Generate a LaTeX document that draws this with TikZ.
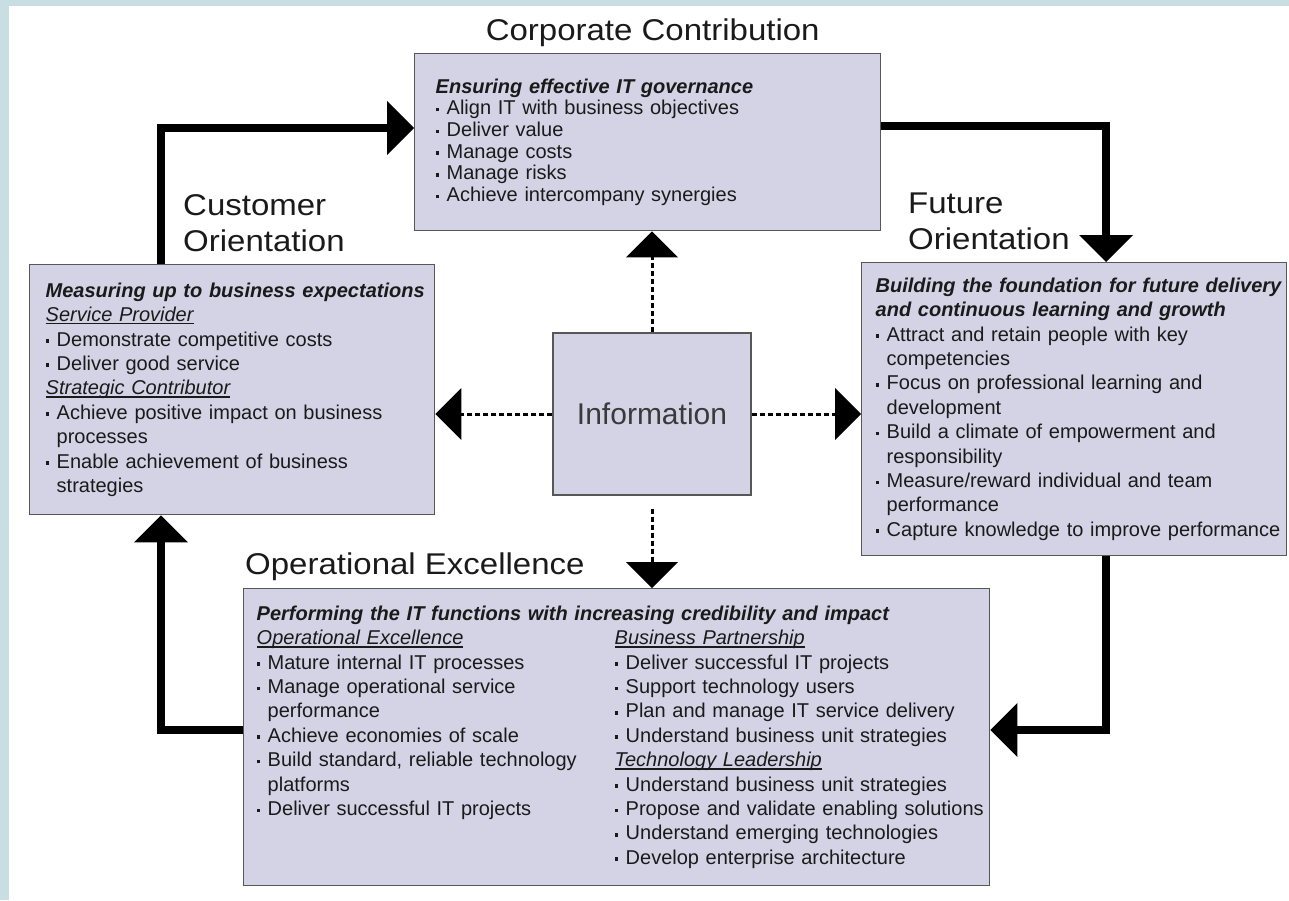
\documentclass[tikz,border=0pt]{standalone}
\usepackage{fontspec}
\setmainfont{Liberation Sans}
\newfontfamily\headfont[FakeStretch=1.1]{Liberation Sans}
\usetikzlibrary{arrows.meta,positioning}
\definecolor{ink}{HTML}{1A1A1A}
\definecolor{lilac}{HTML}{D3D3E5}
\definecolor{edge}{HTML}{575757}
\definecolor{strip}{HTML}{C8DEE3}
\definecolor{infotext}{HTML}{3A3A3A}
\newlength\subwd
\newcommand{\subhd}[1]{\settowidth{\subwd}{\itshape #1}%
  \makebox[0pt][l]{\rule[-2.8pt]{\subwd}{1.3pt}}\mbox{\itshape #1}}
\newcommand{\dotmark}{\raisebox{3.4pt}{\rule{3.6pt}{3.6pt}}}
\newcommand{\bul}[1]{\mbox{\makebox[11pt][l]{\dotmark}#1}}
\newcommand{\cont}[1]{\mbox{\hspace*{11pt}#1}}
\newcommand{\lead}[1]{\mbox{\bfseries\itshape #1}}
\newcommand{\col}[1]{\makebox[358pt][l]{#1}}
\tikzset{
  panel/.style={draw=edge,line width=1.4pt,fill=lilac,text=ink,align=left,
    font=\fontsize{20}{24.4}\selectfont,inner ysep=0pt,anchor=north west},
  head/.style={font=\headfont\fontsize{30}{36}\selectfont,text=ink,
    inner sep=0pt,align=left},
  flow/.style={line width=7.5pt,draw=black,
    -{Triangle[length=27pt,width=54pt,line width=0pt]}},
  feed/.style={line width=3pt,draw=black,dash pattern=on 5pt off 3pt,
    -{Triangle[length=26pt,width=52pt,line width=0pt]}}
}
\begin{document}
\begin{tikzpicture}[x=1pt,y=-1pt]
\useasboundingbox (0,0) rectangle (1289,900);
\fill[strip] (0,0) rectangle (9,900);
\fill[strip] (0,0) rectangle (1289,6);

% perspectives
\node[panel,inner xsep=21pt,text width=424pt,minimum width=466pt,
  minimum height=177pt,font=\fontsize{20}{21.7}\selectfont] (corp) at (414,53)
  {\lead{Ensuring effective IT governance}\\
   \bul{Align IT with business objectives}\\
   \bul{Deliver value}\\
   \bul{Manage costs}\\
   \bul{Manage risks}\\
   \bul{Achieve intercompany synergies}};
\node[panel,inner xsep=16pt,text width=373pt,minimum width=405pt,
  minimum height=250pt] (cust) at (29,264)
  {\lead{Measuring up to business expectations}\\
   \subhd{Service Provider}\\
   \bul{Demonstrate competitive costs}\\
   \bul{Deliver good service}\\
   \subhd{Strategic Contributor}\\
   \bul{Achieve positive impact on business}\\
   \cont{processes}\\
   \bul{Enable achievement of business}\\
   \cont{strategies}};
\node[panel,inner xsep=14pt,text width=397pt,minimum width=425pt,
  minimum height=293pt] (fut) at (861,262)
  {\lead{Building the foundation for future delivery}\\
   \lead{and continuous learning and growth}\\
   \bul{Attract and retain people with key}\\
   \cont{competencies}\\
   \bul{Focus on professional learning and}\\
   \cont{development}\\
   \bul{Build a climate of empowerment and}\\
   \cont{responsibility}\\
   \bul{Measure/reward individual and team}\\
   \cont{performance}\\
   \bul{Capture knowledge to improve performance}};
\node[panel,inner xsep=13pt,text width=720pt,minimum width=746pt,
  minimum height=297pt] (ops) at (243,588)
  {\lead{Performing the IT functions with increasing credibility and impact}\\
   \col{\subhd{Operational Excellence}}\subhd{Business Partnership}\\
   \col{\bul{Mature internal IT processes}}\bul{Deliver successful IT projects}\\
   \col{\bul{Manage operational service}}\bul{Support technology users}\\
   \col{\cont{performance}}\bul{Plan and manage IT service delivery}\\
   \col{\bul{Achieve economies of scale}}\bul{Understand business unit strategies}\\
   \col{\bul{Build standard, reliable technology}}\subhd{Technology Leadership}\\
   \col{\cont{platforms}}\bul{Understand business unit strategies}\\
   \col{\bul{Deliver successful IT projects}}\bul{Propose and validate enabling solutions}\\
   \col{}\bul{Understand emerging technologies}\\
   \col{}\bul{Develop enterprise architecture}};
\node[panel,anchor=center,inner sep=0pt,minimum width=198pt,minimum height=162pt,
  font=\fontsize{30}{36}\selectfont,text=infotext] (info) at (652,414) {Information};

% headings
\node[head,above=6.5pt of corp.north,xshift=5pt] (corphd) {Corporate Contribution};
\node[head,above right=12pt and 154pt of cust.north west] (custhd) {Customer\\Orientation};
\node[head,above right=12pt and 47pt of fut.north west] (futhd) {Future\\Orientation};
\node[head,above right=7.5pt and 2pt of ops.north west] (opshd) {Operational Excellence};

% cycle
\coordinate (toCorp) at (161,128);
\coordinate (toFut) at (1106,126);
\coordinate (toOps) at (1106,730);
\coordinate (toCust) at (161,730);
\draw[flow] (cust.north -| toCorp) |- (corp.west |- toCorp);
\draw[flow] (corp.east |- toFut) -| (fut.north -| toFut);
\draw[flow] (fut.south -| toOps) |- (ops.east |- toOps);
\draw[flow] (ops.west |- toCust) -| (cust.south -| toCust);

% information feeds
\draw[feed] (info.north) -- (info.north |- corp.south);
\draw[feed] (info.west) -- (info.west -| cust.east);
\draw[feed] (info.east) -- (info.east -| fut.west);
\draw[feed,shorten <=13pt] (info.south) -- (info.south |- ops.north);
\end{tikzpicture}
\end{document}
